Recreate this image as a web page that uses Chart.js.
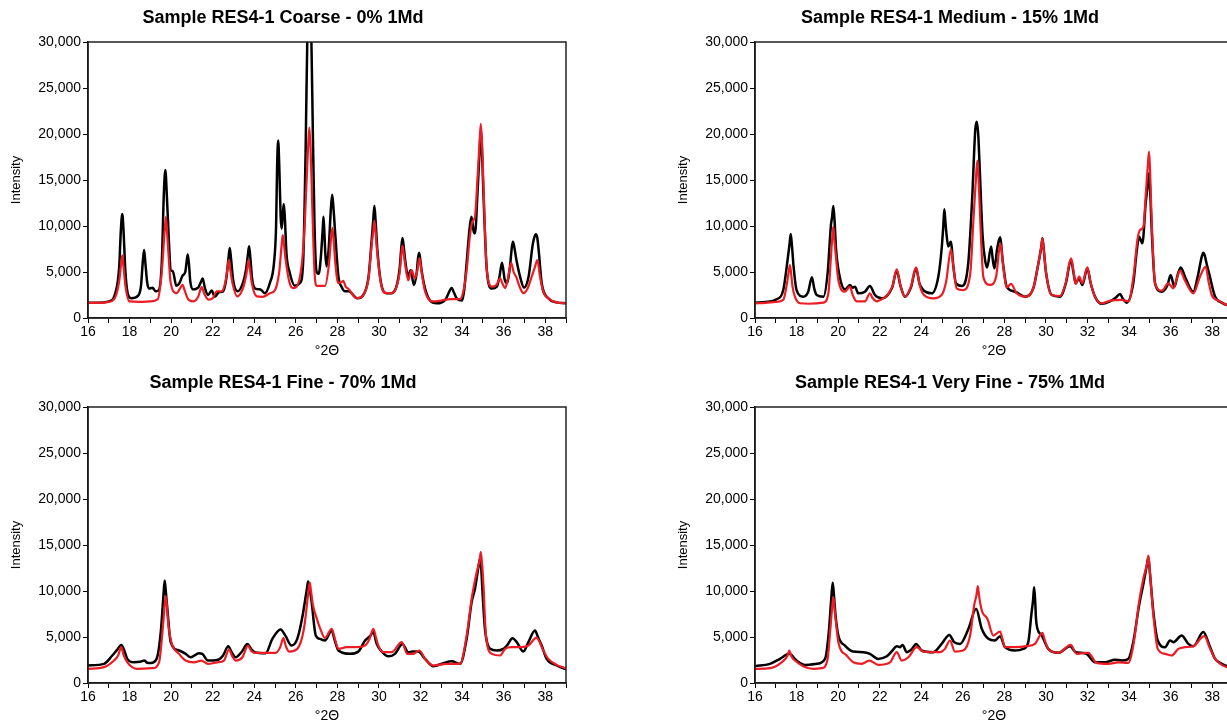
<!DOCTYPE html>
<html><head><meta charset="utf-8">
<script src="https://cdn.jsdelivr.net/npm/chart.js@4.4.1/dist/chart.umd.min.js"></script>
<style>
html,body{margin:0;padding:0;background:#fff;overflow:hidden;width:1227px;height:723px;position:relative;}
.panel{position:absolute;}
</style></head><body>
<div class="panel" style="left:0px;top:0px;"><canvas id="c1" width="580" height="360"></canvas></div>
<div class="panel" style="left:667px;top:0px;"><canvas id="c2" width="580" height="360"></canvas></div>
<div class="panel" style="left:0px;top:365px;"><canvas id="c3" width="580" height="360"></canvas></div>
<div class="panel" style="left:667px;top:365px;"><canvas id="c4" width="580" height="360"></canvas></div>
<script>
// ---- Titles / axis labels ----
const panelTitles = [
  'Sample RES4-1 Coarse - 0% 1Md',
  'Sample RES4-1 Medium - 15% 1Md',
  'Sample RES4-1 Fine - 70% 1Md',
  'Sample RES4-1 Very Fine - 75% 1Md'
];
const xAxisTitle = '°2Θ';
const yAxisTitle = 'Intensity';
const yTickValues = [0, 5000, 10000, 15000, 20000, 25000, 30000];
const xTickLabels = [16, 18, 20, 22, 24, 26, 28, 30, 32, 34, 36, 38];

// ---- Series: [°2Θ, intensity] ----
const coarseBlack = [[16.0,1650],[16.5,1650],[17.0,1800],[17.3,2600],[17.5,5500],[17.58,9500],[17.65,11300],[17.72,9000],[17.8,5000],[17.95,2400],[18.1,2150],[18.4,2400],[18.55,3500],[18.64,6200],[18.7,7400],[18.76,6000],[18.85,3800],[18.95,3200],[19.1,3300],[19.25,2900],[19.4,3000],[19.55,6000],[19.65,13500],[19.72,16100],[19.79,13500],[19.88,9000],[19.98,5200],[20.08,5100],[20.25,3500],[20.4,3800],[20.55,4600],[20.68,5000],[20.75,6200],[20.8,6900],[20.86,5800],[20.92,4000],[21.05,3100],[21.3,3300],[21.45,4000],[21.52,4300],[21.62,3300],[21.78,2500],[21.95,3000],[22.1,2300],[22.3,2800],[22.5,2900],[22.65,4200],[22.76,6500],[22.82,7600],[22.88,6500],[22.98,4200],[23.2,2900],[23.45,3800],[23.6,5200],[23.69,6800],[23.75,7800],[23.81,6600],[23.9,4200],[24.05,3200],[24.3,3100],[24.5,2700],[24.75,3800],[24.95,6000],[25.05,10000],[25.1,16500],[25.15,19300],[25.21,16000],[25.27,11000],[25.32,9700],[25.38,11500],[25.42,12400],[25.47,11000],[25.55,7000],[25.7,5000],[25.95,3500],[26.2,3800],[26.35,6000],[26.47,18000],[26.55,30000],[26.65,34000],[26.75,30000],[26.82,20000],[26.9,10000],[27.0,5000],[27.1,4800],[27.2,6500],[27.29,9500],[27.33,11000],[27.37,9500],[27.42,7000],[27.48,5600],[27.58,7500],[27.69,12000],[27.75,13400],[27.81,12000],[27.9,9000],[28.05,4500],[28.2,3400],[28.37,2900],[28.55,2900],[28.95,2150],[29.3,2700],[29.5,4500],[29.65,8500],[29.72,10500],[29.78,12200],[29.84,10500],[29.92,7500],[30.1,3800],[30.37,2700],[30.6,2700],[30.85,3500],[31.0,5500],[31.07,7500],[31.13,8700],[31.19,7800],[31.25,6500],[31.41,4500],[31.52,5200],[31.68,3600],[31.82,5000],[31.88,6500],[31.93,7100],[31.98,6500],[32.05,5200],[32.22,3200],[32.46,1900],[32.78,1600],[33.2,2000],[33.35,2700],[33.5,3250],[33.62,2700],[33.75,2100],[34.0,1900],[34.1,3000],[34.22,6000],[34.35,9500],[34.45,11000],[34.55,9500],[34.62,9200],[34.75,14000],[34.84,18000],[34.9,20300],[34.96,18000],[35.02,14000],[35.19,5200],[35.43,3200],[35.67,3400],[35.8,4500],[35.92,6000],[36.05,4200],[36.15,3800],[36.3,5500],[36.4,7800],[36.45,8300],[36.52,7600],[36.6,6500],[36.79,4500],[36.98,3300],[37.2,4500],[37.4,8000],[37.48,8800],[37.55,9100],[37.62,8700],[37.7,7000],[37.83,3800],[38.15,2150],[38.55,1700],[39.0,1600]];
const coarseRed = [[16.0,1650],[16.5,1650],[17.0,1750],[17.3,2200],[17.5,4000],[17.59,5800],[17.65,6800],[17.71,5600],[17.8,3500],[18.0,1800],[18.5,1750],[19.0,1800],[19.36,2050],[19.55,5000],[19.69,9500],[19.75,11000],[19.81,9200],[19.9,6000],[19.97,3950],[20.26,2700],[20.45,3300],[20.55,3600],[20.65,3000],[20.83,2000],[21.07,1800],[21.3,2300],[21.47,3350],[21.6,2600],[21.79,2000],[22.0,2150],[22.2,2900],[22.43,2900],[22.6,3800],[22.72,5500],[22.77,6300],[22.83,5500],[22.95,3800],[23.18,2350],[23.45,3200],[23.6,4500],[23.67,5500],[23.72,6300],[23.78,5500],[23.88,3800],[24.12,2350],[24.4,2300],[24.76,2700],[25.0,3050],[25.2,5000],[25.32,8000],[25.37,9000],[25.43,8000],[25.5,6500],[25.7,3800],[25.88,3250],[26.2,4500],[26.4,9000],[26.52,15000],[26.6,19000],[26.65,20700],[26.71,18500],[26.78,13000],[26.9,5000],[27.0,3500],[27.4,3500],[27.6,6000],[27.7,8800],[27.76,9800],[27.82,8500],[27.9,6000],[28.04,3800],[28.2,3900],[28.28,4050],[28.4,3400],[28.52,3200],[28.92,2150],[29.3,2700],[29.5,4300],[29.65,8000],[29.72,9300],[29.78,10600],[29.84,9300],[29.92,7000],[30.1,3700],[30.37,2700],[30.6,2700],[30.85,3400],[31.0,5000],[31.08,7000],[31.13,7850],[31.18,7200],[31.25,6000],[31.41,4100],[31.57,5200],[31.73,4300],[31.85,5200],[31.95,6500],[32.05,5000],[32.22,2900],[32.62,1800],[33.0,1900],[33.42,2050],[33.9,2050],[34.05,2800],[34.22,5200],[34.38,9000],[34.5,10500],[34.62,11000],[34.75,15500],[34.84,19000],[34.9,21100],[34.96,19000],[35.02,15000],[35.19,5200],[35.43,3400],[35.65,3600],[35.83,4300],[35.95,3700],[36.07,3250],[36.2,4200],[36.36,6000],[36.48,5000],[36.6,4500],[36.75,3500],[36.95,2700],[37.15,3200],[37.35,4500],[37.5,5500],[37.62,6300],[37.75,4500],[37.9,2900],[38.23,2000],[38.55,1700],[39.0,1600]];

const mediumBlack = [[16.0,1670],[16.5,1750],[17.04,2030],[17.36,3040],[17.55,6000],[17.66,8000],[17.72,9130],[17.78,7800],[17.86,5500],[18.0,3040],[18.32,2320],[18.55,2800],[18.74,4420],[18.85,3200],[18.97,2500],[19.29,2320],[19.5,5000],[19.65,10000],[19.71,11000],[19.77,12170],[19.83,10500],[19.9,7500],[20.06,4670],[20.33,3110],[20.57,3580],[20.7,3300],[20.81,3400],[20.97,2680],[21.29,2860],[21.53,3480],[21.77,2500],[22.1,2140],[22.34,2390],[22.6,3300],[22.82,5150],[23.0,3500],[23.22,2320],[23.5,3300],[23.75,5400],[23.92,3700],[24.1,3040],[24.5,2680],[24.82,4490],[24.98,7500],[25.06,10000],[25.11,11810],[25.16,10500],[25.22,9000],[25.3,7760],[25.42,8300],[25.55,5500],[25.67,3770],[25.95,3480],[26.26,5940],[26.45,13000],[26.6,20500],[26.67,21340],[26.74,20000],[26.8,17000],[26.95,9000],[27.07,6300],[27.17,5500],[27.36,7760],[27.45,6200],[27.52,5400],[27.65,7500],[27.79,8770],[27.93,6000],[28.11,3400],[28.51,2860],[28.99,2320],[29.4,3300],[29.6,5500],[29.78,7800],[29.83,8660],[29.88,7800],[30.0,5000],[30.28,2500],[30.68,2320],[30.95,3700],[31.21,6300],[31.32,5000],[31.43,3770],[31.59,4310],[31.75,3590],[31.99,5400],[32.15,3800],[32.36,2320],[32.68,1540],[33.08,1810],[33.35,2200],[33.56,2610],[33.7,2100],[33.89,1670],[34.2,3770],[34.38,7500],[34.48,8840],[34.64,8120],[34.8,12500],[34.9,14500],[34.96,15730],[35.02,13500],[35.08,10000],[35.25,3770],[35.57,2860],[35.85,3600],[36.0,4670],[36.18,3400],[36.35,4800],[36.49,5490],[36.69,4490],[37.09,2860],[37.3,4500],[37.5,6700],[37.57,7100],[37.64,6800],[37.72,6000],[37.85,4850],[38.14,2320],[38.46,1670],[38.71,1420],[39.0,1350]];
const mediumRed = [[16.0,1600],[16.5,1650],[17.0,1750],[17.36,1960],[17.52,3500],[17.62,5000],[17.68,5760],[17.74,4800],[17.8,3500],[17.92,2320],[18.17,1600],[18.6,1550],[19.29,1670],[19.53,2680],[19.65,6500],[19.72,8800],[19.77,9930],[19.82,8500],[19.9,6500],[20.01,4130],[20.33,2860],[20.57,3400],[20.7,2500],[20.89,1810],[21.29,1810],[21.53,2680],[21.65,2200],[21.86,1810],[22.17,2140],[22.41,2610],[22.62,3500],[22.82,5290],[23.0,3500],[23.22,2320],[23.5,3400],[23.75,5510],[23.92,3600],[24.13,2500],[24.58,2140],[24.98,2500],[25.2,4000],[25.43,7470],[25.55,5500],[25.7,3230],[26.02,3040],[26.35,4670],[26.52,11000],[26.64,15500],[26.7,17100],[26.76,15000],[26.85,10000],[26.99,4420],[27.31,3600],[27.6,4490],[27.81,8120],[27.95,5500],[28.11,3330],[28.32,3700],[28.59,2680],[28.99,2320],[29.4,3300],[29.6,5500],[29.78,7800],[29.83,8660],[29.88,7800],[30.0,5000],[30.28,2500],[30.68,2390],[30.95,3800],[31.21,6490],[31.32,5200],[31.43,3700],[31.6,4490],[31.75,3770],[31.99,5510],[32.15,3800],[32.36,2320],[32.68,1600],[33.16,1920],[33.64,1960],[33.97,1810],[34.23,4850],[34.4,8500],[34.53,9570],[34.69,9930],[34.82,14000],[34.9,16500],[34.96,18080],[35.01,16000],[35.08,11000],[35.25,3770],[35.57,2970],[35.89,3770],[36.13,3230],[36.3,4300],[36.45,5150],[36.69,4060],[37.09,2680],[37.41,4490],[37.69,5580],[37.82,4000],[37.98,2500],[38.3,1890],[38.71,1420],[39.0,1350]];

const fineBlack = [[16.0,1900],[16.77,2080],[17.17,2990],[17.4,3600],[17.6,4140],[17.75,3500],[17.89,2620],[18.21,2250],[18.5,2300],[18.72,2450],[18.85,2200],[19.02,2180],[19.3,2620],[19.5,5500],[19.63,9500],[19.69,11140],[19.75,9800],[19.82,8000],[19.98,4440],[20.38,3530],[20.7,3170],[20.94,2800],[21.34,3240],[21.5,3170],[21.77,2440],[22.22,2510],[22.5,3000],[22.75,4000],[22.9,3400],[23.11,2800],[23.4,3400],[23.67,4250],[23.85,3700],[24.02,3350],[24.55,3240],[24.87,4800],[25.27,5820],[25.51,5090],[25.79,4070],[26.07,4800],[26.3,7000],[26.53,10200],[26.59,11030],[26.66,10300],[26.75,9000],[26.96,5160],[27.16,4800],[27.4,4620],[27.73,5710],[27.85,4800],[28.05,3530],[28.61,3170],[29.01,3420],[29.33,4620],[29.57,5090],[29.73,5530],[29.89,4250],[30.13,3420],[30.45,2900],[30.77,3170],[31.13,4250],[31.41,3350],[31.62,3420],[31.89,3420],[32.22,2620],[32.62,1830],[33.1,2150],[33.5,2360],[33.9,2080],[34.22,4800],[34.46,8790],[34.62,10240],[34.8,12800],[34.86,13500],[34.92,12500],[34.98,10000],[35.1,5890],[35.35,3710],[35.67,3530],[35.99,3710],[36.2,4200],[36.42,4870],[36.63,4440],[36.95,3420],[37.19,4440],[37.51,5710],[37.65,5000],[37.83,4070],[38.07,2620],[38.55,1900],[38.95,1540],[39.0,1500]];
const fineRed = [[16.0,1540],[16.77,1720],[17.25,2440],[17.45,3000],[17.6,3890],[17.72,3000],[17.89,2250],[18.37,1540],[19.1,1610],[19.42,2250],[19.6,6000],[19.68,8200],[19.74,9440],[19.8,8300],[19.86,6500],[20.01,4440],[20.38,3170],[20.7,2440],[21.1,2250],[21.45,2440],[21.77,2080],[22.22,2250],[22.54,2440],[22.79,3640],[22.92,3000],[23.11,2440],[23.43,2800],[23.7,4070],[23.85,3500],[24.02,3280],[24.55,3280],[25.03,3280],[25.25,3900],[25.4,4870],[25.52,4000],[25.67,3420],[26.07,3710],[26.39,5890],[26.61,10000],[26.67,10950],[26.73,10000],[26.82,8500],[26.99,7140],[27.16,6000],[27.4,4900],[27.73,5890],[27.88,4800],[28.05,3710],[28.45,3890],[28.93,3890],[29.33,4070],[29.55,4800],[29.73,5890],[29.85,5000],[29.97,4070],[30.21,3350],[30.61,3350],[31.1,4440],[31.36,3170],[31.65,3170],[31.94,3530],[32.27,2440],[32.62,1900],[33.26,2080],[33.9,2080],[34.22,5160],[34.46,9150],[34.7,12000],[34.84,13300],[34.9,14220],[34.96,13000],[35.02,11000],[35.15,5160],[35.43,3170],[35.83,2990],[36.07,3710],[36.39,3890],[36.87,3890],[37.19,4070],[37.59,4940],[37.72,4500],[37.87,3710],[38.15,2620],[38.55,1970],[38.95,1610],[39.0,1550]];

const veryFineBlack = [[16.0,1830],[16.72,2080],[17.2,2620],[17.65,3170],[18.0,2440],[18.41,1970],[18.97,2080],[19.37,2620],[19.55,5500],[19.68,9500],[19.74,10890],[19.8,9500],[19.87,7500],[20.01,5160],[20.33,4070],[20.73,3420],[21.21,3350],[21.53,3170],[21.93,2620],[22.34,2900],[22.6,3500],[22.82,4000],[22.98,3890],[23.1,4140],[23.3,3350],[23.55,3700],[23.75,4250],[24.02,3530],[24.58,3350],[24.98,4250],[25.35,5230],[25.58,4440],[25.87,4250],[26.27,5890],[26.64,8070],[26.91,5890],[27.23,4800],[27.55,4620],[27.79,5090],[28.03,3890],[28.51,3530],[28.91,3710],[29.15,4440],[29.3,7500],[29.38,9000],[29.43,10410],[29.48,9000],[29.52,7000],[29.59,5890],[29.8,5160],[30.11,3710],[30.6,3280],[31.16,4000],[31.43,3350],[31.72,3280],[31.96,3170],[32.36,2250],[32.84,2250],[33.32,2540],[33.64,2440],[33.96,2620],[34.2,4440],[34.48,8430],[34.69,10780],[34.87,13000],[34.93,13680],[34.99,12300],[35.17,7710],[35.38,4620],[35.73,3890],[35.97,4620],[36.13,4440],[36.53,5160],[36.85,4250],[37.09,4000],[37.57,5530],[37.9,3890],[38.14,2620],[38.46,2080],[38.71,1830],[39.0,1650]];
const veryFineRed = [[16.0,1540],[16.72,1610],[17.28,2250],[17.55,2900],[17.65,3530],[17.75,2900],[17.92,2440],[18.32,1830],[18.81,1540],[19.21,1610],[19.48,2440],[19.63,6000],[19.71,8200],[19.77,9330],[19.83,8000],[19.9,6500],[20.01,4440],[20.41,2990],[20.73,2250],[21.13,2080],[21.5,2440],[21.93,1970],[22.5,2250],[22.82,3350],[23.06,2440],[23.38,2800],[23.78,3890],[24.1,3420],[24.9,3350],[25.14,3710],[25.38,4620],[25.62,3420],[26.02,3530],[26.35,5160],[26.55,8500],[26.66,9600],[26.72,10520],[26.78,9500],[26.85,8500],[26.94,7710],[27.18,6990],[27.47,5160],[27.79,5600],[28.03,3890],[28.51,3890],[29.07,4000],[29.47,4250],[29.83,5450],[29.95,4600],[30.11,3710],[30.6,3280],[31.19,4140],[31.48,3170],[31.88,3280],[32.04,3280],[32.44,2180],[33.0,2080],[33.48,2250],[33.96,2180],[34.23,4440],[34.48,8790],[34.7,11500],[34.87,13000],[34.93,13860],[34.99,12400],[35.17,7350],[35.38,3710],[35.73,3170],[36.05,2990],[36.37,3710],[36.69,3890],[37.09,4000],[37.62,5090],[37.9,3710],[38.14,2620],[38.46,1970],[38.71,1720],[39.0,1600]];

// ---- Styling ----
const FONT = "'Liberation Sans', Arial, Helvetica, sans-serif";
const BLACK = '#000000';
const RED = '#ec1c24';

const boxPlugin = {
  id: 'plotBox',
  afterDatasetsDraw(chart) {
    const {ctx, chartArea: a} = chart;
    ctx.save();
    ctx.strokeStyle = '#222';
    ctx.lineWidth = 1.5;
    ctx.strokeRect(a.left, a.top, a.right - a.left, a.bottom - a.top);
    ctx.restore();
  }
};

function pts(arr) { return arr.map(p => ({x: p[0], y: p[1]})); }

function makeChart(id, title, black, red) {
  new Chart(document.getElementById(id), {
    type: 'line',
    data: {
      datasets: [
        {label: 'red', data: pts(red), borderColor: RED, borderWidth: 2.2, pointRadius: 0, order: 0, cubicInterpolationMode: 'monotone', fill: false},
        {label: 'black', data: pts(black), borderColor: BLACK, borderWidth: 2.5, pointRadius: 0, order: 1, cubicInterpolationMode: 'monotone', fill: false}
      ]
    },
    options: {
      responsive: false,
      animation: false,
      events: [],
      layout: {padding: {left: 0, right: 14, top: 0, bottom: 0}},
      plugins: {
        legend: {display: false},
        tooltip: {enabled: false},
        title: {display: true, text: title, color: '#000',
          font: {family: FONT, size: 18, weight: 'bold'},
          padding: {top: 7, bottom: 13.4}}
      },
      scales: {
        x: {
          type: 'linear', min: 16, max: 39,
          afterFit: s => { s.height = 42; },
          ticks: {stepSize: 1, autoSkip: false, maxRotation: 0, maxTicksLimit: 100, color: '#000',
            font: {family: FONT, size: 14}, padding: 1,
            callback: v => xTickLabels.includes(v) ? String(v) : ''},
          grid: {drawOnChartArea: false, drawTicks: true, tickLength: 5, color: '#000', lineWidth: 1},
          border: {display: true, color: '#000', width: 1.5},
          title: {display: true, text: xAxisTitle, color: '#000', font: {family: FONT, size: 14}, padding: {top: 0, bottom: 0}}
        },
        y: {
          min: 0, max: 30000,
          afterFit: s => { s.width = 88; },
          afterBuildTicks: s => { s.ticks = yTickValues.map(v => ({value: v})); },
          ticks: {color: '#000', font: {family: FONT, size: 14}, padding: 2,
            callback: v => Number(v).toLocaleString('en-US')},
          grid: {drawOnChartArea: false, drawTicks: true, tickLength: 5, color: '#000', lineWidth: 1},
          border: {display: true, color: '#000', width: 1.5},
          title: {display: true, text: yAxisTitle, color: '#000', font: {family: FONT, size: 13}, padding: {top: 9, bottom: 0}}
        }
      }
    },
    plugins: [boxPlugin]
  });
}

makeChart('c1', panelTitles[0], coarseBlack, coarseRed);
makeChart('c2', panelTitles[1], mediumBlack, mediumRed);
makeChart('c3', panelTitles[2], fineBlack, fineRed);
makeChart('c4', panelTitles[3], veryFineBlack, veryFineRed);
</script>
</body></html>
